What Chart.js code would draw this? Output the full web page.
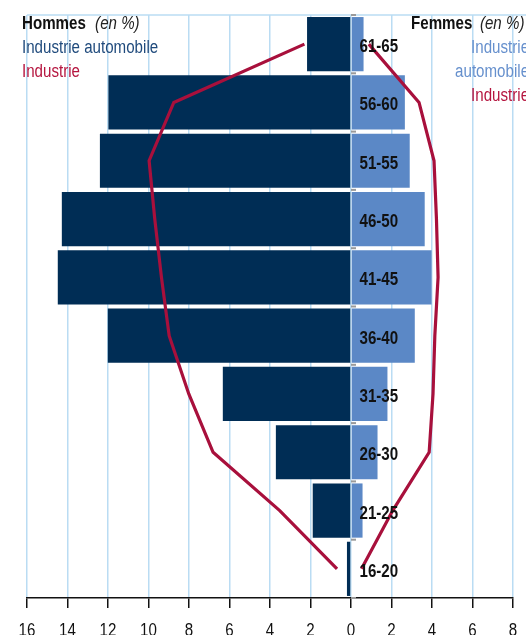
<!DOCTYPE html>
<html>
<head>
<meta charset="utf-8">
<script src="https://cdn.jsdelivr.net/npm/chart.js@4.4.1/dist/chart.umd.min.js"></script>
<style>
  html, body { margin: 0; padding: 0; width: 526px; height: 635px; overflow: hidden; background: #fff; }
  #wrap { position: relative; width: 526px; height: 635px; overflow: hidden; }
  canvas { position: absolute; left: 0; top: 0; }
  .lg { position: absolute; font-family: "Liberation Sans", Arial, sans-serif; font-size: 18px; line-height: 18px; white-space: nowrap; transform: scaleX(0.84); transform-origin: 0 0; }
  .rt { transform-origin: 100% 0; text-align: right; }
  .b { font-weight: bold; color: #111; }
  .i { font-style: italic; font-weight: normal; color: #222; margin-left: 6px; }
</style>
</head>
<body>
<div id="wrap">
  <canvas id="c" width="526" height="635"></canvas>
  <div class="lg b" style="left:22px; top:14px;">Hommes <span class="i">(en %)</span></div>
  <div class="lg" style="left:22px; top:38px; color:#1F4A7C;">Industrie automobile</div>
  <div class="lg" style="left:22px; top:62px; color:#B5153F;">Industrie</div>
  <div class="lg b" style="left:411px; top:14px;">Femmes <span class="i" style="margin-left:4px;">(en %)</span></div>
  <div class="lg rt" style="right:-3px; top:38px; color:#6690CD;">Industrie</div>
  <div class="lg rt" style="right:-3px; top:62px; color:#6690CD;">automobile</div>
  <div class="lg rt" style="right:-3px; top:86px; color:#B5153F;">Industrie</div>
</div>
<script>
// Age groups (top to bottom)
const ageGroups = ['61-65', '56-60', '51-55', '46-50', '41-45', '36-40', '31-35', '26-30', '21-25', '16-20'];
// Men (en %), drawn to the left
const hommesAuto = [2.17, 11.98, 12.4, 14.28, 14.48, 12.01, 6.33, 3.71, 1.89, 0.2];
const hommesIndustrie = [2.3, 8.75, 9.97, 9.69, 9.36, 8.98, 8.01, 6.81, 3.52, 0.69];
// Women (en %), drawn to the right
const femmesAuto = [0.62, 2.66, 2.9, 3.64, 3.98, 3.15, 1.8, 1.31, 0.57, 0];
const femmesIndustrie = [0.88, 3.36, 4.1, 4.22, 4.3, 4.14, 4.05, 3.86, 2.06, 0.52];
// Axis ticks
const axisMin = -16, axisMax = 8, axisStep = 2;

const FONT = '"Liberation Sans", Arial, sans-serif';
const SQUEEZE = 0.84;
const NAVY = '#002D55';
const LIGHT = '#5B88C6';
const CRIMSON = '#A8103C';
const GRID = '#BADCF3';

function squeezedText(ctx, text, x, y) {
  ctx.save();
  ctx.translate(x, y);
  ctx.scale(SQUEEZE, 1);
  ctx.fillText(text, 0, 0);
  ctx.restore();
}

const textPlugin = {
  id: 'textPlugin',
  afterDatasetsDraw(chart) {
    const ctx = chart.ctx;
    const xs = chart.scales.x, ys = chart.scales.y;
    const x0 = xs.getPixelForValue(0);
    const area = chart.chartArea;
    ctx.save();
    // top border line
    ctx.strokeStyle = GRID;
    ctx.lineWidth = 1.5;
    ctx.beginPath();
    ctx.moveTo(area.left, area.top);
    ctx.lineTo(chart.width, area.top);
    ctx.stroke();
    // small grey ticks at category boundaries
    ctx.strokeStyle = '#9a9a9a';
    ctx.lineWidth = 2;
    const n = ageGroups.length;
    for (let i = 0; i <= n; i++) {
      let y;
      if (i === 0) y = area.top;
      else if (i === n) y = area.bottom;
      else y = (ys.getPixelForValue(i - 1) + ys.getPixelForValue(i)) / 2;
      ctx.beginPath();
      ctx.moveTo(x0, y);
      ctx.lineTo(x0 + 5, y);
      ctx.stroke();
    }
    // age group labels
    ctx.fillStyle = '#111';
    ctx.font = 'bold 18px ' + FONT;
    ctx.textAlign = 'left';
    ctx.textBaseline = 'middle';
    ageGroups.forEach((lab, i) => {
      squeezedText(ctx, lab, x0 + 8.5, ys.getPixelForValue(i) + 3);
    });
    // x-axis tick labels (absolute values)
    ctx.font = '18px ' + FONT;
    ctx.textAlign = 'center';
    ctx.textBaseline = 'alphabetic';
    xs.ticks.forEach(t => {
      squeezedText(ctx, String(Math.abs(t.value)), xs.getPixelForValue(t.value), area.bottom + 37.5);
    });
    ctx.restore();
  }
};

new Chart(document.getElementById('c'), {
  type: 'bar',
  data: {
    labels: ageGroups,
    datasets: [
      {
        type: 'line', label: 'Hommes Industrie', indexAxis: 'y',
        data: hommesIndustrie.map(v => -v),
        borderColor: CRIMSON, borderWidth: 3.2, pointRadius: 0, fill: false, tension: 0, order: 0
      },
      {
        type: 'line', label: 'Femmes Industrie', indexAxis: 'y',
        data: femmesIndustrie,
        borderColor: CRIMSON, borderWidth: 3.2, pointRadius: 0, fill: false, tension: 0, order: 0
      },
      {
        label: 'Hommes Industrie automobile', indexAxis: 'y',
        data: hommesAuto.map(v => -v),
        backgroundColor: NAVY, grouped: false, barPercentage: 0.93, categoryPercentage: 1, order: 2
      },
      {
        label: 'Femmes Industrie automobile', indexAxis: 'y',
        data: femmesAuto,
        backgroundColor: LIGHT, grouped: false, barPercentage: 0.93, categoryPercentage: 1, order: 1
      }
    ]
  },
  options: {
    indexAxis: 'y',
    responsive: false,
    animation: false,
    events: [],
    layout: { padding: { left: 27, right: 13, top: 15, bottom: 0 } },
    plugins: { legend: { display: false }, tooltip: { enabled: false } },
    scales: {
      x: {
        type: 'linear',
        min: axisMin, max: axisMax,
        afterFit(scale) { scale.height = 37; },
        grid: { color: GRID, lineWidth: 1.5, tickColor: '#111', tickWidth: 1.5, tickLength: 10, drawOnChartArea: true },
        border: { display: true, color: '#111', width: 1.5 },
        ticks: { stepSize: axisStep, display: false }
      },
      y: {
        type: 'category',
        display: false,
        offset: true
      }
    }
  },
  plugins: [textPlugin]
});
</script>
</body>
</html>
